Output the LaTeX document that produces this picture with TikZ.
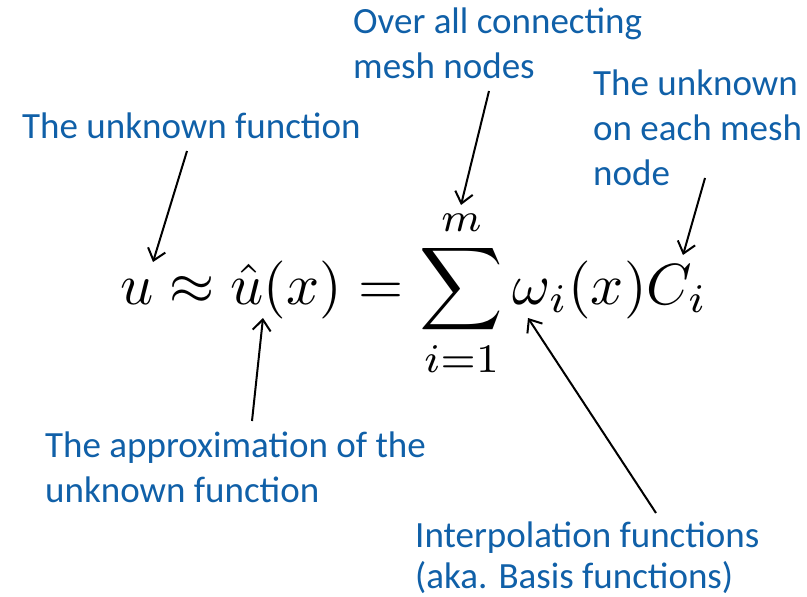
\documentclass[tikz,border=0pt]{standalone}
\usepackage[no-math]{fontspec}
\setmainfont{Carlito}
\usetikzlibrary{arrows.meta}
\definecolor{lblue}{RGB}{16,96,168}
\tikzset{
  lbl/.style={text=lblue, font=\fontsize{37}{45}\selectfont, align=left, inner sep=0pt, anchor=base west},
  arr/.style={draw=black, line width=2pt, -{Straight Barb[length=11pt,width=18pt]}}
}
\begin{document}
\begin{tikzpicture}[x=1pt,y=-1pt]
\useasboundingbox (0,0) rectangle (807,597);
\node[lbl] (over) at (353,78) {Over all connecting\\mesh nodes};
\node[lbl] (unkC) at (593,185) {The unknown\\on each mesh\\node};
\node[lbl] (unkF) at (22,138) {The unknown function};
\node[lbl] (approx) at (45,502) {The approximation of the\\unknown function};
\node[lbl] (interp) at (415,588) {Interpolation functions\\[-4pt](aka. Basis functions)};
\node[inner sep=0pt, anchor=base west] (eq) at (120,304)
  {\scalebox{5.8}{$\displaystyle u\approx\hat{u}(x)=\sum_{i=1}^{m}\omega_i(x)C_i$}};
\coordinate (a1s) at (187,151); \coordinate (a1e) at (153,262);
\coordinate (a2s) at (252,421); \coordinate (a2e) at (263,318);
\coordinate (a3s) at (489,91);  \coordinate (a3e) at (461,205);
\coordinate (a4s) at (705,178); \coordinate (a4e) at (683,255);
\coordinate (a5s) at (656,513); \coordinate (a5e) at (528,318);
\draw[arr] (a1s) -- (a1e);
\draw[arr] (a2s) -- (a2e);
\draw[arr] (a3s) -- (a3e);
\draw[arr] (a4s) -- (a4e);
\draw[arr] (a5s) -- (a5e);
\end{tikzpicture}
\end{document}
